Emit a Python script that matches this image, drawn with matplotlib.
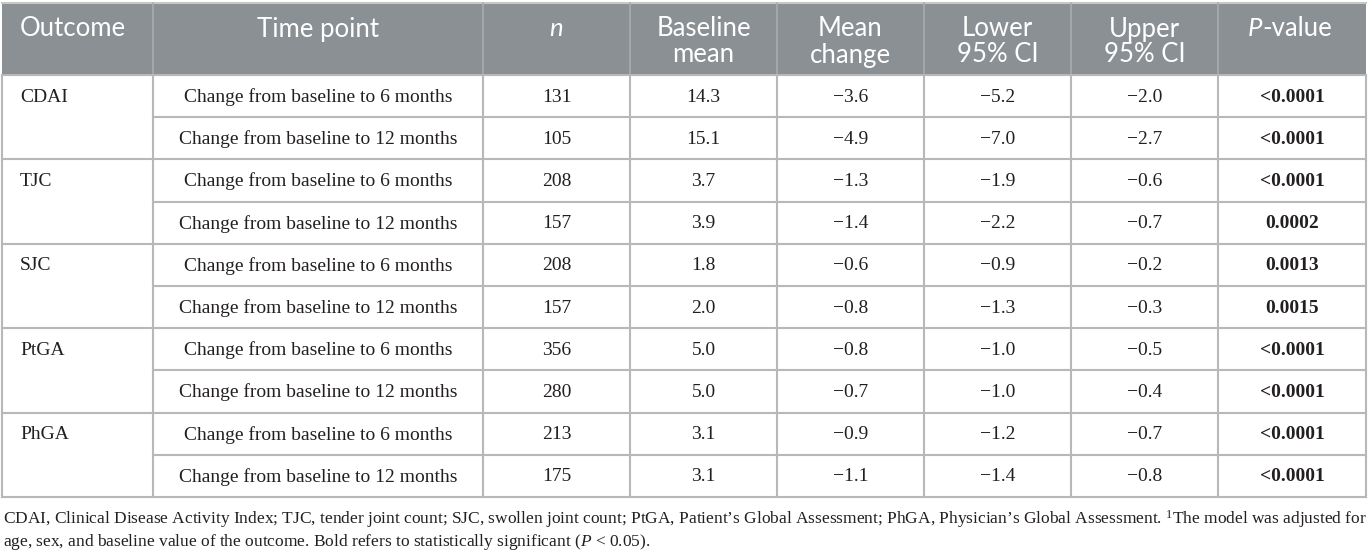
import matplotlib
matplotlib.use('Agg')
import matplotlib.pyplot as plt
from matplotlib.patches import Rectangle

plt.rcParams['mathtext.fontset'] = 'custom'
plt.rcParams['mathtext.rm'] = 'Liberation Serif'
plt.rcParams['mathtext.it'] = 'Liberation Serif:italic'
plt.rcParams['mathtext.bf'] = 'Liberation Serif:bold'

# table data
outcomes = ['CDAI', 'TJC', 'SJC', 'PtGA', 'PhGA']
time_points = ['Change from baseline to 6 months', 'Change from baseline to 12 months']
n_vals = [131, 105, 208, 157, 208, 157, 356, 280, 213, 175]
baseline_mean = ['14.3', '15.1', '3.7', '3.9', '1.8', '2.0', '5.0', '5.0', '3.1', '3.1']
mean_change = ['−3.6', '−4.9', '−1.3', '−1.4', '−0.6', '−0.8', '−0.8', '−0.7', '−0.9', '−1.1']
lower_ci = ['−5.2', '−7.0', '−1.9', '−2.2', '−0.9', '−1.3', '−1.0', '−1.0', '−1.2', '−1.4']
upper_ci = ['−2.0', '−2.7', '−0.6', '−0.7', '−0.2', '−0.3', '−0.5', '−0.4', '−0.7', '−0.8']
p_values = ['<0.0001', '<0.0001', '<0.0001', '0.0002', '0.0013',
            '0.0015', '<0.0001', '<0.0001', '<0.0001', '<0.0001']
headers = ['Outcome', 'Time point', 'n', 'Baseline\nmean', 'Mean\nchange',
           'Lower\n95% CI', 'Upper\n95% CI', 'P-value']
footnote1 = ('CDAI, Clinical Disease Activity Index; TJC, tender joint count; SJC, swollen joint count; '
             'PtGA, Patient’s Global Assessment; PhGA, Physician’s Global Assessment. $^{1}$The model was adjusted for')
footnote2 = ('age, sex, and baseline value of the outcome. Bold refers to statistically significant '
             '($P$ < 0.05).')

W, H = 1369, 553
fig = plt.figure(figsize=(W / 100, H / 100), dpi=100)
ax = fig.add_axes([0, 0, 1, 1])
ax.set_xlim(0, W)
ax.set_ylim(H, 0)
ax.axis('off')

cols = [2, 153, 483, 630, 777, 924, 1071, 1218, 1366]
top, head_bot, bot = 3, 75, 497
row_h = (bot - head_bot) / 10.0
head_col = '#8b9094'
grid = '#b8b8b8'
txt = '#231f20'
hfont = 'Lato'
bfont = 'Liberation Serif'
hsize = 18.5
hy = 29  # first header line centre

# header band
ax.add_patch(Rectangle((cols[0], top), cols[-1] - cols[0], head_bot - top,
                       facecolor=head_col, edgecolor='none'))
ax.plot([cols[0], cols[-1]], [top, top], color='#c5c9c4', lw=1.5)
for x in cols[1:-1]:
    ax.plot([x, x], [top, head_bot], color='#a8acaf', lw=1.2)

# header texts
for i, h in enumerate(headers):
    cx = (cols[i] + cols[i + 1]) / 2
    lines = h.split('\n')
    if i == 0:
        ax.text(20, hy, h, ha='left', va='center', color='white', fontsize=hsize, family=hfont)
    elif h == 'n':
        ax.text(cx, hy, h, ha='center', va='center', color='white', fontsize=hsize,
                family=hfont, style='italic')
    elif h == 'P-value':
        t = ax.text(1248, hy, 'P', ha='left', va='center', color='white', fontsize=hsize,
                    family=hfont, style='italic')
        ax.annotate('-value', xy=(1, hy), xycoords=(t, 'data'), ha='left', va='center',
                    color='white', fontsize=hsize, family=hfont)
    else:
        for k, ln in enumerate(lines):
            ax.text(cx, hy + k * 26, ln, ha='center', va='center', color='white',
                    fontsize=hsize, family=hfont)

# grid lines
for r in range(1, 11):
    y = head_bot + r * row_h
    x0 = cols[0] if r % 2 == 0 else cols[1]
    ax.plot([x0, cols[-1]], [y, y], color=grid, lw=1.5)
ax.plot([cols[0], cols[-1]], [head_bot, head_bot], color=grid, lw=1.5)
for x in cols:
    ax.plot([x, x], [head_bot, bot], color=grid, lw=1.5)

# body texts
for r in range(10):
    cy = head_bot + (r + 0.5) * row_h + 1
    if r % 2 == 0:
        ax.text(20, cy, outcomes[r // 2], ha='left', va='center', color=txt,
                fontsize=14, family=bfont)
    vals = [time_points[r % 2], str(n_vals[r]), baseline_mean[r], mean_change[r],
            lower_ci[r], upper_ci[r], p_values[r]]
    for c, v in enumerate(vals):
        cx = (cols[c + 1] + cols[c + 2]) / 2
        ax.text(cx, cy, v, ha='center', va='center', color=txt, fontsize=14,
                family=bfont, weight='bold' if c == 6 else 'normal')

# footnote
ax.text(3, 519, footnote1, ha='left', va='center', color=txt, fontsize=12.5, family=bfont)
ax.text(3, 542, footnote2, ha='left', va='center', color=txt, fontsize=12.5, family=bfont)

fig.savefig('out.png', dpi=100, facecolor='white')
